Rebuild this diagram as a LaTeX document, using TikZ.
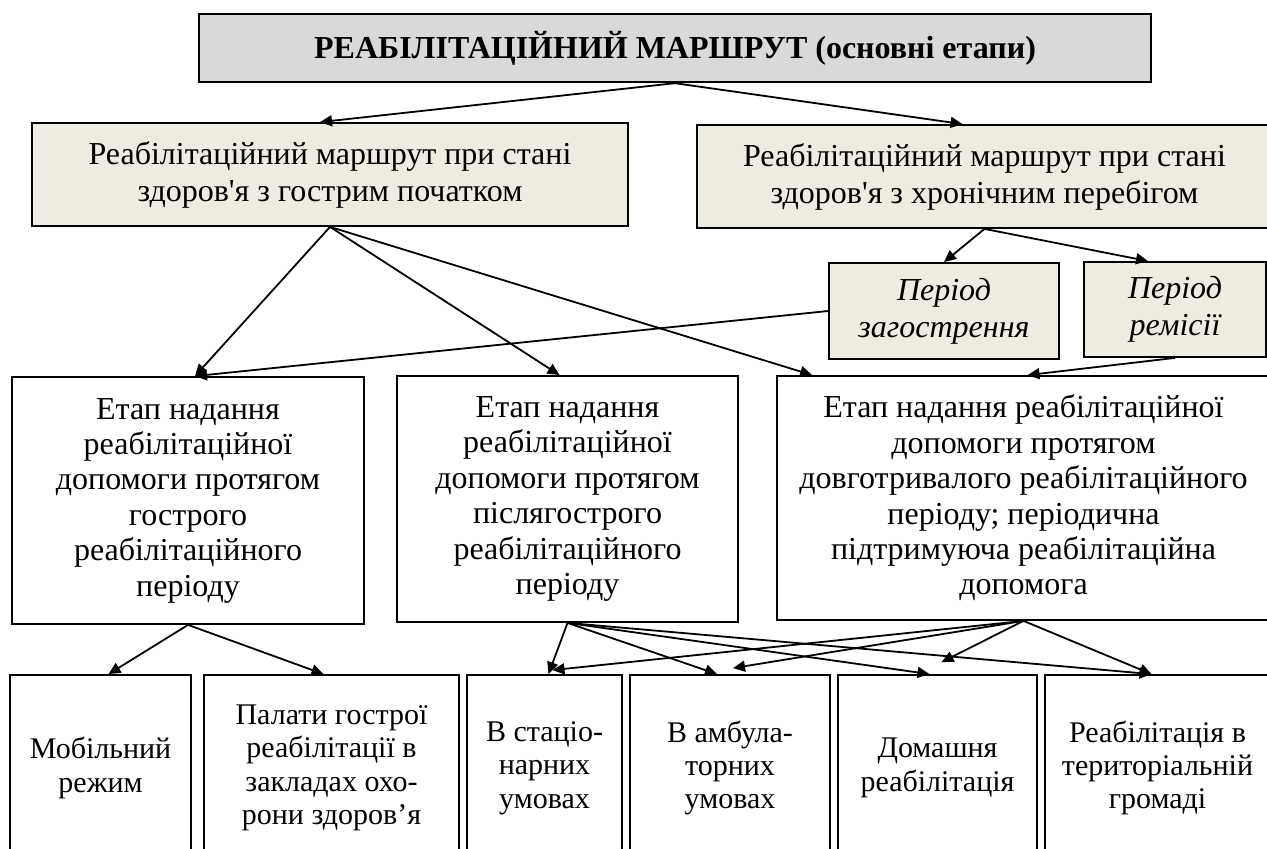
\documentclass[tikz,border=0pt]{standalone}
\usepackage{fontspec}
\setmainfont{Liberation Serif}
\usetikzlibrary{arrows.meta}
\definecolor{titlegray}{HTML}{D9D9D9}
\definecolor{tanfill}{HTML}{EEECE1}
\tikzset{
	box/.style={draw, rectangle, line width=0.9pt, align=center, inner sep=2pt, font=\fontsize{16}{17.7}\selectfont},
	tanbox/.style={box, fill=tanfill},
	placebox/.style={box, minimum height=93pt, font=\fontsize{15}{16.7}\selectfont},
	>={Triangle[length=6pt,width=5.5pt]}
}
\begin{document}
\begin{tikzpicture}[x=0.5pt,y=-0.5pt,line width=0.9pt]
			\clip (0,0) rectangle (1267,849);
			% top level
			\node	(top) at (675,48) [box, fill=titlegray, line width=1.2pt, minimum width=476pt, minimum height=34pt, font=\bfseries\fontsize{16}{19}\selectfont] {РЕАБІЛІТАЦІЙНИЙ МАРШРУТ (основні етапи)};
			\node	(acute) at (330,174.5) [tanbox, minimum width=298pt, minimum height=51.5pt, font=\fontsize{16}{18.5}\selectfont] {Реабілітаційний маршрут при стані\\здоров\textquotesingle я з гострим початком};
			\node	(chronic) at (984.5,176.5) [tanbox, minimum width=287.5pt, minimum height=51.5pt, font=\fontsize{16}{18.5}\selectfont] {Реабілітаційний маршрут при стані\\здоров\textquotesingle я з хронічним перебігом};
			\node	(exac) at (944,311) [tanbox, minimum width=115pt, minimum height=48pt, font=\itshape\fontsize{16}{18.5}\selectfont] {Період\\загострення};
			\node	(remis) at (1175,309.5) [tanbox, minimum width=91pt, minimum height=47.5pt, font=\itshape\fontsize{16}{18.5}\selectfont] {Період\\ремісії};
			% stages
			\node	(stA) at (188,500.5) [box, minimum width=176pt, minimum height=123.5pt] {Етап надання\\реабілітаційної\\допомоги протягом\\гострого\\реабілітаційного\\періоду};
			\node	(stB) at (567.5,499) [box, minimum width=170.5pt, minimum height=123pt] {Етап надання\\реабілітаційної\\допомоги протягом\\післягострого\\реабілітаційного\\періоду};
			\node	(stC) at (1023.5,498) [box, minimum width=246.5pt, minimum height=122pt] {Етап надання реабілітаційної\\допомоги протягом\\довготривалого реабілітаційного\\періоду; періодична\\підтримуюча реабілітаційна\\допомога};
			% places
			\node	(mob) at (100.5,768) [placebox, minimum width=90.5pt] {Мобільний\\режим};
			\node	(ward) at (331.5,768) [placebox, minimum width=127.5pt] {Палати гострої\\реабілітації в\\закладах охо-\\рони здоров’я};
			\node	(stat) at (544.5,768) [placebox, minimum width=77.5pt] {В стаціо-\\нарних\\умовах};
			\node	(amb) at (730,768) [placebox, minimum width=100pt] {В амбула-\\торних\\умовах};
			\node	(home) at (937.5,768) [placebox, minimum width=99.5pt] {Домашня\\реабілітація};
			\node	(comm) at (1157.5,768) [placebox, minimum width=112.5pt] {Реабілітація в\\територіальній\\громаді};
			
			\draw 
			(top.south) edge[->] ([xshift=-5pt]acute.north)
			(top.south) edge[->] ([xshift=-11pt]chronic.north)
			(acute.south) edge[->] ([xshift=3.5pt]stA.north)
			(acute.south) edge[->] ([xshift=-4pt]stB.north)
			(acute.south) edge[->] ([xshift=18pt]stC.north west)
			(chronic.south) edge[->] (exac.north)
			(chronic.south) edge[->] ([xshift=-13.5pt]remis.north)
			(exac.west) edge[->] ([xshift=3.5pt]stA.north)
			(remis.south) edge[->] ([xshift=2pt]stC.north)
			(stA.south) edge[->] ([xshift=4pt]mob.north)
			(stA.south) edge[->] ([xshift=-4pt]ward.north)
			(stB.south) edge[->] ([xshift=2pt]stat.north)
			(stB.south) edge[->] ([xshift=-6.5pt]amb.north)
			(stB.south) edge[->] ([xshift=-4pt]home.north)
			(stB.south) edge[->] ([xshift=-3pt]comm.north)
			(stC.south) edge[->] ([xshift=4pt,yshift=2pt]stat.north)
			(stC.south) edge[->] ([xshift=1.5pt,yshift=3pt]amb.north)
			(stC.south) edge[->] ([xshift=2pt,yshift=6pt]home.north)
			(stC.south) edge[->] ([xshift=-3pt]comm.north)
			;
		\end{tikzpicture}
\end{document}
